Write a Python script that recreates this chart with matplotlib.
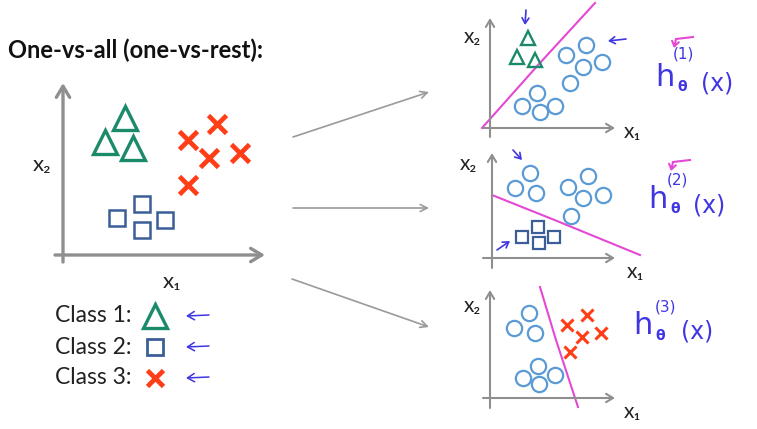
import matplotlib
matplotlib.use("Agg")
import matplotlib.pyplot as plt

W, H = 757, 429

# left plot: all three classes (units: axis origin at 0,0)
tri_x = [3.1, 2.1, 3.5]
tri_y = [6.85, 5.65, 5.35]
sq_x = [2.7, 3.95, 3.95, 5.1]
sq_y = [1.85, 2.55, 1.25, 1.75]
cross_x = [6.25, 7.7, 7.3, 8.85, 6.25]
cross_y = [5.75, 6.55, 4.85, 5.1, 3.5]

# panel 1: class 1 vs rest
p1_tri_x = [3.8, 2.7, 4.5]
p1_tri_y = [9.0, 7.1, 6.8]
p1_rest_x = [7.6, 9.6, 11.2, 9.3, 8.0, 4.7, 3.2, 5.0, 6.5]
p1_rest_y = [7.3, 8.3, 6.6, 6.1, 4.5, 3.5, 2.2, 1.6, 2.2]
p1_bound_x = [-0.8, 4.9, 10.5]
p1_bound_y = [0.0, 6.4, 12.5]

# panel 2: class 2 vs rest
p2_sq_x = [3.0, 4.6, 4.7, 6.2]
p2_sq_y = [2.1, 3.1, 1.5, 2.1]
p2_rest_x = [3.8, 2.3, 4.4, 7.6, 9.6, 9.1, 11.1, 7.9]
p2_rest_y = [8.5, 7.0, 6.5, 7.1, 8.2, 6.0, 6.3, 4.2]
p2_bound_x = [0.0, 6.5, 14.8]
p2_bound_y = [6.3, 3.7, 0.3]

# panel 3: class 3 vs rest
p3_cross_x = [7.7, 9.7, 9.2, 11.1, 8.0]
p3_cross_y = [7.3, 8.3, 6.1, 6.5, 4.6]
p3_rest_x = [3.9, 2.4, 4.5, 4.8, 3.3, 4.9, 6.5]
p3_rest_y = [8.5, 7.0, 6.5, 3.2, 2.0, 1.4, 2.3]
p3_bound_x = [5.0, 6.6, 8.8]
p3_bound_y = [11.1, 5.8, -0.9]

class_labels = ["Class 1:", "Class 2:", "Class 3:"]
hyp_labels = ["(1)", "(2)", "(3)"]

GREEN = "#1b8a6b"
NAVY = "#3b5e98"
RED = "#ff3d17"
CIRC = "#5b9bd5"
PINK = "#e548d4"
INK = "#3f36e2"
GRAY = "#8f8f8f"

plt.rcParams["font.family"] = ["Lato", "DejaVu Sans"]

fig = plt.figure(figsize=(W / 100, H / 100), dpi=100)
fig.patch.set_facecolor("white")

bg = fig.add_axes([0, 0, 1, 1])
bg.set_xlim(0, W)
bg.set_ylim(H, 0)
bg.axis("off")


def panel(box, origin, scale):
    left, top, right, bottom = box
    ox, oy = origin
    ax = fig.add_axes([left / W, 1 - bottom / H, (right - left) / W, (bottom - top) / H])
    ax.set_xlim((left - ox) / scale, (right - ox) / scale)
    ax.set_ylim((oy - bottom) / scale, (oy - top) / scale)
    ax.axis("off")
    return ax


def axes_arrows(ax, xr, yr, lw, head):
    style = dict(arrowstyle="->,head_length=%g,head_width=%g" % (head, head * 0.6),
                 color=GRAY, lw=lw, shrinkA=0, shrinkB=0)
    ax.annotate("", xy=(xr[1], 0), xytext=(xr[0], 0), arrowprops=style)
    ax.annotate("", xy=(0, yr[1]), xytext=(0, yr[0]), arrowprops=style)


# ---- left plot
ax0 = panel((40, 70, 280, 270), (63, 255), 20)
axes_arrows(ax0, (-0.4, 10.1), (-0.35, 8.6), 2.4, 0.8)
ax0.plot(tri_x, tri_y, "^", ms=17, mfc="none", mec=GREEN, mew=2.4, clip_on=False)
ax0.plot(sq_x, sq_y, "s", ms=12, mfc="none", mec=NAVY, mew=1.8, clip_on=False)
ax0.plot(cross_x, cross_y, "x", ms=13, mec=RED, mew=3.4, clip_on=False)
bg.text(42, 165, "x₂", fontsize=16, ha="center", va="center", color="#222222")
bg.text(172, 282, "x₁", fontsize=16, ha="center", va="center", color="#222222")

bg.text(8, 50, "One-vs-all (one-vs-rest):", fontsize=17, fontweight="bold",
        ha="left", va="center", color="#111111")

# ---- legend
leg_y = [316, 347, 378]
for lab, y in zip(class_labels, leg_y):
    bg.text(55, y, lab, fontsize=16.5, ha="left", va="center", color="#222222")
    bg.annotate("", xy=(186, y), xytext=(209, y - 1),
                arrowprops=dict(arrowstyle="->,head_length=0.5,head_width=0.3",
                                color=INK, lw=1.1, shrinkA=0, shrinkB=0))
bg.plot(155, leg_y[0], "^", ms=17, mfc="none", mec=GREEN, mew=2.4)
bg.plot(155, leg_y[1], "s", ms=11, mfc="none", mec=NAVY, mew=2.0)
bg.plot(155, leg_y[2], "x", ms=11, mec=RED, mew=3.4)

# ---- right panels
ax1 = panel((470, 0, 630, 140), (490, 128), 10)
axes_arrows(ax1, (-0.7, 12.5), (-0.9, 11.0), 1.5, 0.5)
ax1.plot(p1_bound_x, p1_bound_y, color=PINK, lw=1.5, clip_on=False)
ax1.plot(p1_tri_x, p1_tri_y, "^", ms=10, mfc="none", mec=GREEN, mew=1.7, clip_on=False)
ax1.plot(p1_rest_x, p1_rest_y, "o", ms=11, mfc="none", mec=CIRC, mew=1.6, clip_on=False)

ax2 = panel((470, 140, 650, 275), (492, 258), 10)
axes_arrows(ax2, (-0.9, 12.3), (-1.0, 10.5), 1.5, 0.5)
ax2.plot(p2_bound_x, p2_bound_y, color=PINK, lw=1.5, clip_on=False)
ax2.plot(p2_sq_x, p2_sq_y, "s", ms=9, mfc="none", mec=NAVY, mew=1.6, clip_on=False)
ax2.plot(p2_rest_x, p2_rest_y, "o", ms=11, mfc="none", mec=CIRC, mew=1.6, clip_on=False)

ax3 = panel((470, 280, 630, 420), (490, 398), 10)
axes_arrows(ax3, (-0.7, 12.5), (-1.0, 10.8), 1.5, 0.5)
ax3.plot(p3_bound_x, p3_bound_y, color=PINK, lw=1.5, clip_on=False)
ax3.plot(p3_cross_x, p3_cross_y, "x", ms=8, mec=RED, mew=2.2, clip_on=False)
ax3.plot(p3_rest_x, p3_rest_y, "o", ms=11, mfc="none", mec=CIRC, mew=1.6, clip_on=False)

for (lx, ly), (rx, ry) in [((472, 37), (632, 132)), ((468, 164), (635, 272)),
                           ((472, 306), (632, 412))]:
    bg.text(lx, ly, "x₂", fontsize=15, ha="center", va="center", color="#222222")
    bg.text(rx, ry, "x₁", fontsize=15, ha="center", va="center", color="#222222")

# ---- connecting arrows
for start, end in [((293, 137), (429, 92)), ((293, 208), (429, 208)),
                   ((292, 279), (429, 327))]:
    bg.annotate("", xy=end, xytext=start,
                arrowprops=dict(arrowstyle="->,head_length=0.5,head_width=0.25",
                                color="#9a9a9a", lw=1.2, shrinkA=0, shrinkB=0))

# ---- handwritten hypotheses
hand = dict(color=INK, ha="center", va="center", family="DejaVu Sans")
for lab, (hx, hy), (sx, sy), (xx, xy_) in zip(
        hyp_labels,
        [(665, 77), (658, 199), (643, 326)],
        [(683, 54), (677, 180), (665, 307)],
        [(717, 83), (709, 206), (697, 331)]):
    bg.text(hx, hy, "h", fontsize=22, **hand)
    bg.text(hx + 17, hy + 10, "θ", fontsize=10, fontweight="bold", **hand)
    bg.text(sx, sy, lab, fontsize=11, **hand)
    bg.text(xx, xy_, "(x)", fontsize=17, **hand)

# pink ticks above (1) and (2)
for x0, y0 in [(676, 39), (673, 162)]:
    bg.plot([x0, x0 + 17], [y0, y0 - 2], color=PINK, lw=1.5)
    bg.annotate("", xy=(x0 - 2, y0 + 9), xytext=(x0, y0),
                arrowprops=dict(arrowstyle="->,head_length=0.35,head_width=0.25",
                                color=PINK, lw=1.5, shrinkA=0, shrinkB=0))

# small ink arrows in the panels
ink = dict(arrowstyle="->,head_length=0.4,head_width=0.25", color=INK, lw=1.2,
           shrinkA=0, shrinkB=0)
for start, end in [((526, 10), (525, 25)), ((626, 39), (608, 41)),
                   ((513, 150), (522, 160)), ((497, 250), (510, 241))]:
    bg.annotate("", xy=end, xytext=start, arrowprops=ink)

fig.savefig("out.png", dpi=100, facecolor="white")
